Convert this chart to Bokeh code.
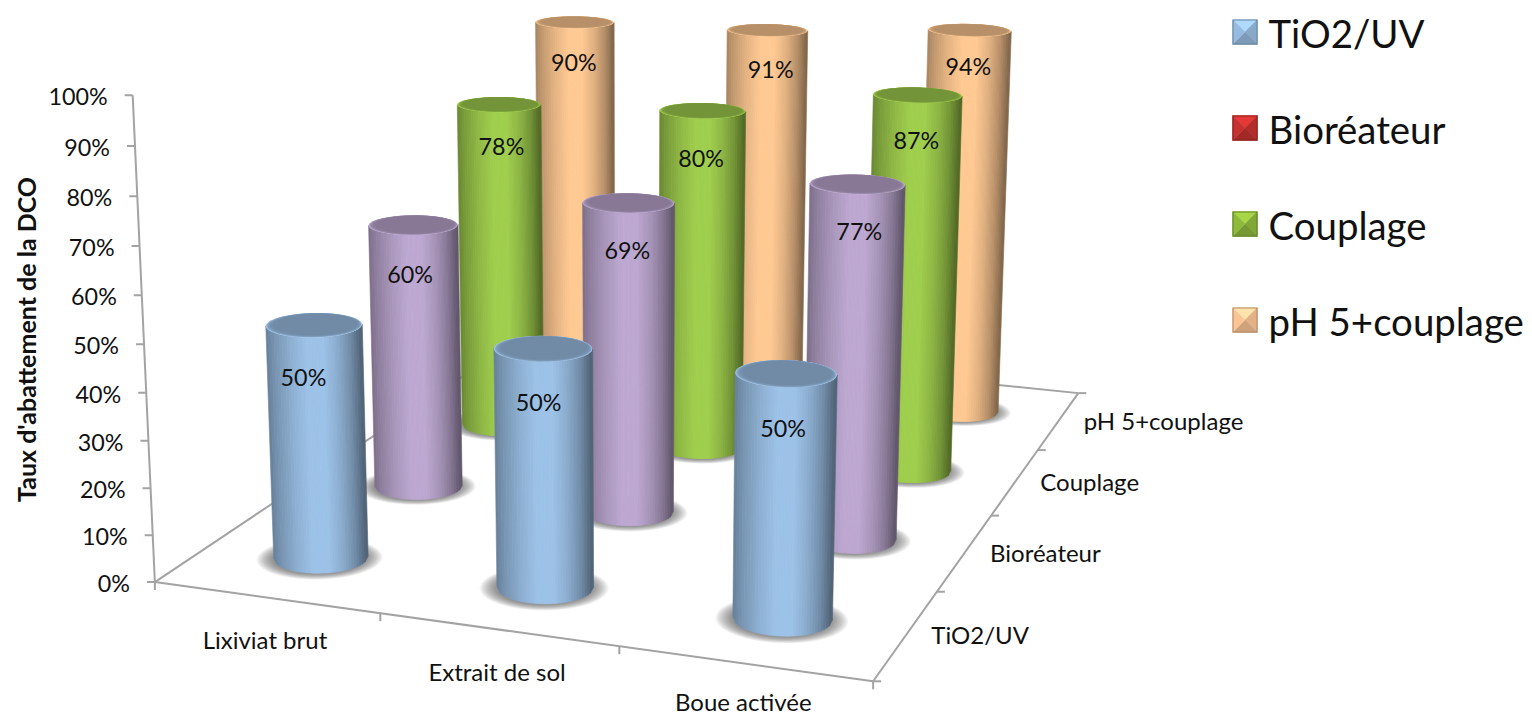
from math import pi
import numpy as np
from bokeh.plotting import figure
from bokeh.models import Range1d
from bokeh.core.properties import value
from bokeh.embed import file_html
from bokeh.resources import INLINE

# ---- data ----
categories = ["Lixiviat brut", "Extrait de sol", "Boue activée"]
series = ["TiO2/UV", "Bioréateur", "Couplage", "pH 5+couplage"]
tio2_uv = [50, 50, 50]
bioreateur = [60, 69, 77]
couplage = [78, 80, 87]
ph5_couplage = [90, 91, 94]
value_ticks = [0, 10, 20, 30, 40, 50, 60, 70, 80, 90, 100]
axis_title = "Taux d'abattement de la DCO"
body_colors = ["#9DC2E8", "#BDA8D1", "#A0CE4E", "#FFC993"]
legend_colors = ["#95B8DC", "#C2312E", "#8DB63C", "#F6C193"]
label_drop = [11, 10.5, 10.5, 9.5]
label_nudge = [[(-12, 0), (-5, 0), (-2, 0)],
               [(-4, 2), (-1, -1), (3, -3)],
               [(2, -3), (-1, 2), (0, -2)],
               [(-1, 2), (4, 0), (0, -4)]]

values = [tio2_uv, bioreateur, couplage, ph5_couplage]

# ---- 3D view: camera fitted to reference landmarks of the box and columns ----
FONT = value("Lato")
anchors = [
    (0, 0, 0, 155, 581), (1, 0, 0, 381, 615), (2, 0, 0, 619, 648), (3, 0, 0, 873, 681),
    (3, 1, 0, 937, 590), (3, 2, 0, 990, 514), (3, 3, 0, 1038, 449), (3, 4, 0, 1077, 392),
    (0, 0, 50, 144, 343), (0, 0, 100, 133, 93), (0, 0, 100, 133, 93), (0, 0, 100, 133, 92),
    (0, 0, 80, 137, 195),
    (.5, .5, 50, 313, 326), (1.5, .5, 50, 541, 349), (2.5, .5, 50, 784, 373),
    (.5, 1.5, 60, 412, 228), (1.5, 1.5, 69, 627, 204), (2.5, 1.5, 77, 857, 184),
    (.5, 2.5, 78, 499, 105), (1.5, 2.5, 80, 701, 110), (2.5, 2.5, 87, 917, 96),
    (.5, 3.5, 90, 572, 22), (1.5, 3.5, 91, 768, 29), (2.5, 3.5, 94, 970, 30),
    (.5, .5, 0, 319, 556), (2.5, .5, 0, 781, 617), (2.5, 3.5, 0, 959, 408),
]
A = []
for X, Y, Z, u, v in anchors:
    Z, u, v = Z / 100, u / 1000, v / 1000
    A.append([X, Y, Z, 1, 0, 0, 0, 0, -u * X, -u * Y, -u * Z, -u])
    A.append([0, 0, 0, 0, X, Y, Z, 1, -v * X, -v * Y, -v * Z, -v])
CAM = np.linalg.svd(np.array(A))[2][-1].reshape(3, 4)


def project(X, Y, Z):
    X, Y, Z = np.asarray(X, float), np.asarray(Y, float), np.asarray(Z, float)
    P = np.stack([X, Y, Z / 100, np.ones_like(X)])
    q = CAM @ P.reshape(4, -1)
    return q[0] / q[2] * 1000, q[1] / q[2] * 1000


def pt(X, Y, Z):
    u, v = project(X, Y, Z)
    return float(u[0]), float(v[0])


def hex2rgb(c):
    return np.array([int(c[i:i + 2], 16) for i in (1, 3, 5)], float)


def shade(c, f):
    r = np.clip(hex2rgb(c) * f, 0, 255).astype(int)
    return "#%02x%02x%02x" % tuple(r)


W, H = 1532, 717
p = figure(width=W, height=H, x_range=Range1d(0, W), y_range=Range1d(H, 0),
           output_backend="svg", toolbar_location=None, min_border=0,
           outline_line_color=None, background_fill_color="white")
p.axis.visible = False
p.grid.visible = False

AXC = "#a3a3a3"
INK = "#111111"
TICK = 8


def seg(x0, y0, x1, y1, w=2.0):
    p.line([x0, x1], [y0, y1], line_color=AXC, line_width=w)


# floor frame
for a, b in [((0, 0), (3, 0)), ((3, 0), (3, 4)), ((3, 4), (0, 4)), ((0, 4), (0, 0))]:
    x0, y0 = pt(a[0], a[1], 0)
    x1, y1 = pt(b[0], b[1], 0)
    seg(x0, y0, x1, y1)
# value axis
x0, y0 = pt(0, 0, value_ticks[0])
x1, y1 = pt(0, 0, value_ticks[-1])
seg(x0, y0, x1, y1)
tx, ty, tt = [], [], []
for t in value_ticks:
    x, y = pt(0, 0, t)
    seg(x - TICK, y, x, y)
    tx.append(x - 25)
    ty.append(y + 1)
    tt.append(f"{t}%")
p.text(tx, ty, text=tt, text_font=FONT, text_font_size="23.3px", text_color=INK,
       text_align="right", text_baseline="middle")
# category axis
for i in range(len(categories) + 1):
    x, y = pt(i, 0, 0)
    seg(x, y, x, y + TICK)
tx, ty = zip(*[pt(i + .5, 0, 0) for i in range(len(categories))])
p.text([x - 1 for x in tx], [min(y + 42, 701) for y in ty], text=categories, text_font=FONT,
       text_font_size="24px", text_color=INK, text_align="center", text_baseline="middle")
# series axis
for j in range(len(series) + 1):
    x, y = pt(3, j, 0)
    seg(x, y, x + TICK, y)
tx, ty = zip(*[pt(3, j + .5, 0) for j in range(len(series))])
p.text([x + 25 for x in tx], list(ty), text=series, text_font=FONT,
       text_font_size="24px", text_color=INK, text_align="left", text_baseline="middle")
# axis title
p.text([25], [339], text=[axis_title], text_font=FONT, text_font_size="25px",
       text_font_style="bold", text_color=INK, angle=pi / 2, angle_units="rad",
       text_align="center", text_baseline="middle")

# ---- columns ----
RX, RY = 0.195, 0.19
PROFILE = [(0, .66), (.08, .76), (.25, .90), (.42, 1.0), (.6, 1.0), (.75, .88), (.88, .72), (1, .5)]
N = 36


def circle(i, j, z, s=1.0, dy=0.0, dx=0.0):
    th = np.linspace(0, 2 * pi, 72, endpoint=False)
    return project(i + .5 + dx + s * RX * np.cos(th), j + .5 + dy + s * RY * np.sin(th),
                   np.full_like(th, z))


# shadows first: they lie on the floor under every column
for j in range(len(series) - 1, -1, -1):
    for i in range(len(categories)):
        xs, ys, = [], []
        for s in np.linspace(1.34, 1.0, 18):
            u, v = circle(i, j, 0, s=s, dy=-0.01)
            xs.append(u.tolist())
            ys.append(v.tolist())
        p.patches(xs, ys, fill_color="#3a3a3a", fill_alpha=0.045, line_color=None)

for j in range(len(series) - 1, -1, -1):
    base = body_colors[j]
    for i in range(len(categories)):
        z = values[j][i]
        ub, vb = circle(i, j, 0)
        ut, vt = circle(i, j, z)

        def arc(u, v):
            l, r = int(np.argmin(u)), int(np.argmax(u))
            n = len(u)
            a1 = [(l + k) % n for k in range(((r - l) % n) + 1)]
            a2 = [(l - k) % n for k in range(((l - r) % n) + 1)]
            pick = a1 if np.mean(v[a1]) > np.mean(v[a2]) else a2
            return u[pick], v[pick]

        ab, bb = arc(ub, vb)
        at, bt = arc(ut, vt)
        sb = np.linspace(ab[0], ab[-1], N + 1)
        st = np.linspace(at[0], at[-1], N + 1)
        yb = np.interp(sb, ab, bb)
        yt = np.interp(st, at, bt)
        xs, ys, cs = [], [], []
        for k in range(N):
            xs.append([st[k], st[k + 1] + .4, sb[k + 1] + .4, sb[k]])
            ys.append([yt[k], yt[k + 1], yb[k + 1], yb[k]])
            f = np.interp((k + .5) / N, [q[0] for q in PROFILE], [q[1] for q in PROFILE])
            cs.append(shade(base, f))
        p.patches(xs, ys, fill_color=cs, line_color=cs, line_width=0.6)
        # cap
        xs, ys, cs = [], [], []
        for s, f in [(1.0, 1.02), (.985, .92), (.97, .84), (.95, .78), (.92, .74), (.88, .72)]:
            u, v = circle(i, j, z, s=s, dy=(1 - s) * RY * .55)
            xs.append(u.tolist())
            ys.append(v.tolist())
            cs.append(shade(base, f))
        p.patches(xs, ys, fill_color=cs, line_color=None)
        # data label
        lx, ly = pt(i + .5, j + .5, z - label_drop[j])
        dx, dy = label_nudge[j][i]
        p.text([lx + dx], [ly + dy], text=[f"{z}%"], text_font=FONT, text_font_size="23.3px",
               text_color=INK, text_align="center", text_baseline="middle")

# ---- legend ----
LX, LS = 1232, 25
for k, (name, col) in enumerate(zip(series, legend_colors)):
    top = 19 + 96 * k
    x0, x1, y0, y1 = LX, LX + LS, top, top + LS
    cx, cy = (x0 + x1) / 2, (y0 + y1) / 2
    fills = [shade(col, 1.18), shade(col, .92), shade(col, .84), shade(col, 1.02)]
    p.patches([[x0, x1, cx], [x1, x1, cx], [x0, x1, cx], [x0, x0, cx]],
              [[y0, y0, cy], [y0, y1, cy], [y1, y1, cy], [y0, y1, cy]],
              fill_color=fills, line_color=fills, line_width=0.5)
    p.quad(left=[x0 + .5], right=[x1 - .5], top=[y0 + .5], bottom=[y1 - .5], fill_color=None,
           line_color=shade(col, .72), line_width=1)
    p.text([1268], [top + 13], text=[name], text_font=FONT, text_font_size="38.4px", text_color=INK,
           text_align="left", text_baseline="middle")

open("out.html", "w").write(file_html(p, INLINE))
